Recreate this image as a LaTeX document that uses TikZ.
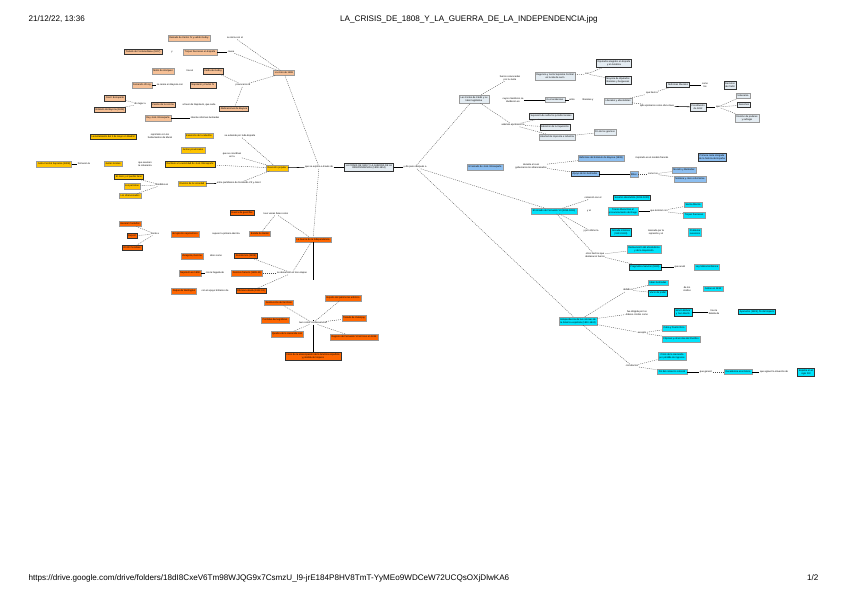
\documentclass[tikz,border=0pt]{standalone}
\usepackage{fontspec}
\setmainfont{Liberation Sans}
\usepackage{xcolor}
\usepackage{tikz}
\usetikzlibrary{calc}
\definecolor{melocoton}{RGB}{246,192,150}
\definecolor{amarillo}{RGB}{255,196,0}
\definecolor{naranja}{RGB}{255,102,0}
\definecolor{grisazul}{RGB}{228,236,242}
\definecolor{azul}{RGB}{140,190,240}
\definecolor{cian}{RGB}{0,228,252}
\newcommand{\mini}{\fontsize{2.4}{2.8}\selectfont}
\newcommand{\cabe}{\fontsize{8.1}{9}\selectfont}

\begin{document}
\begin{tikzpicture}[x=1pt, y=-1pt,
    caja/.style={font=\mini, align=center, inner xsep=1.4pt, inner ysep=1.6pt, draw=black!40, line width=0.2pt},
    marco/.style={draw=black!80, line width=0.45pt},
    pe/.style={caja, fill=melocoton}, am/.style={caja, fill=amarillo},
    na/.style={caja, fill=naranja}, gr/.style={caja, fill=grisazul},
    az/.style={caja, fill=azul}, ci/.style={caja, fill=cian},
    enl/.style={font=\mini, align=center, inner sep=0.5pt},
    rama/.style={black!70, line width=0.35pt, dash pattern=on 1pt off 1pt},
    liga/.style={black, line width=0.55pt}]
    \useasboundingbox (0,0) rectangle (848,599);
    % 1. Cabecera y pie
    \node[anchor=west, font=\cabe] (fecha) at (25,19) {21/12/22, 13:36};
    \node[font=\cabe] (titulo) at (469,19) {LA\_CRISIS\_DE\_1808\_Y\_LA\_GUERRA\_DE\_LA\_INDEPENDENCIA.jpg};
    \node[anchor=west, font=\cabe] (url) at (25,578) {https://drive.google.com/drive/folders/18dI8CxeV6Tm98WJQG9x7CsmzU\_l9-jrE184P8HV8TmT-YyMEo9WDCeW72UCQsOXjDlwKA6};
    \node[anchor=east, font=\cabe] (pagina) at (822,578) {1/2};

    % 2. Nodo central
    \node[gr,marco] (cen) at (369,167) {LA CRISIS DE 1808 Y LA GUERRA DE LA\\INDEPENDENCIA (1808-1814)};
    \node[enl] (lc) at (319,167) {que se explica a través de};
    \node[enl] (rc) at (415,167) {y dio paso después a};
    \draw[liga] (lc) -- (cen);
    \draw[liga] (cen) -- (rc);

    % 3. Rama melocotón
    \node[pe] (pm) at (284,73) {La crisis de 1808};
    \node[pe] (p1) at (189,38) {Reinado de Carlos IV y valido Godoy};
    \node[enl] (lp1) at (235,38) {se inicia con el};
    \node[pe,marco] (p2) at (143,52) {Tratado de Fontainebleau (1807)};
    \node[enl] (lp2) at (172,52) {y};
    \node[pe] (p3) at (200,52) {Tropas francesas en España};
    \node[enl] (lp3) at (231,52) {causa};
    \node[pe] (p4) at (163,71) {Motín de Aranjuez};
    \node[enl] (lp4) at (190,71) {tras el};
    \node[pe,marco] (p5) at (213,71) {Caída de Godoy};
    \node[enl] (lp5) at (243,85) {provocaron la};
    \node[pe] (p6) at (142,85) {Fernando VII rey};
    \node[enl] (lp6) at (170,85) {se reúne en Bayona con};
    \node[pe,marco] (p7) at (203,85) {Napoleón y Carlos IV};
    \node[pe,marco] (p8) at (234,109) {Abdicaciones de Bayona};
    \node[pe,marco] (p9) at (115,98) {José I Bonaparte};
    \node[pe,marco] (p10) at (110,110) {Estatuto de Bayona (1808)};
    \node[enl] (lp9) at (140,104) {dio lugar a};
    \node[pe,marco] (p11) at (163,105) {Cesión de la corona};
    \node[enl] (lp11) at (199,105) {a favor de Napoleón, que cede};
    \node[pe] (p12) at (158,118) {Rey José I Bonaparte};
    \node[enl] (lp12) at (205,118) {intenta reformas ilustradas};
    \draw[rama] (lp1) -- (pm);
    \draw[liga] (p3) -- (lp3);
    \draw[rama] (lp3) -- (pm);
    \draw[rama] (p5) -- (lp5);
    \draw[rama] (lp5) -- (pm);
    \draw[rama] (lp5) -- (p8);
    \draw[liga] (p6) -- (lp6);
    \foreach \n in {p9,p10} \draw[rama] (\n) -- (lp9);
    \draw[liga] (p12) -- (lp12);
    \draw[rama] (pm) -- (lc);

    % 4. Rama amarilla
    \node[am] (ym) at (277,168) {Reacción popular};
    \node[am,marco] (y1) at (113,137) {Levantamiento del 2 de mayo en Madrid};
    \node[enl] (ly1) at (160,136) {reprimido con los\\fusilamientos de Murat};
    \node[am] (y2) at (199,136) {Extensión de la rebelión};
    \node[enl] (ly2) at (240,136) {se extiende por toda España};
    \node[am] (y3) at (193,150) {Juntas provinciales};
    \node[enl] (ly3) at (232,155) {que se coordinan\\en la};
    \node[am] (y4) at (54,164) {Junta Central Suprema (1808)};
    \node[enl] (ly4) at (84,164) {formaron la};
    \node[am] (y5) at (113,164) {Juntas locales};
    \node[enl] (ly5) at (145,164) {que asumen\\la soberanía};
    \node[am,marco] (y6) at (190,164) {Rechazo a la autoridad de José I Bonaparte};
    \node[am,marco] (y7) at (129,177) {El clero y el pueblo llano};
    \node[am] (y8) at (132,186) {Los patriotas};
    \node[am] (y9) at (130,196) {Los afrancesados};
    \node[enl] (ly7) at (162,185) {divididos en};
    \node[am] (y10) at (192,184) {División de la sociedad};
    \node[enl] (ly10) at (239,183) {entre partidarios de Fernando VII y José I};
    \draw[rama] (ly2) -- (ym);
    \draw[rama] (ly3) -- (ym);
    \draw[liga] (y4) -- (ly4);
    \draw[rama] (y6) -- (ym);
    \foreach \n in {y7,y8,y9} \draw[rama] (\n) -- (ly7);
    \draw[liga] (y10) -- (ly10);
    \draw[rama] (ly10) -- (ym);
    \draw[liga] (ym) -- (lc);

    % 5. Rama naranja
    \node[na] (om) at (313,239.5) {La Guerra de la Independencia};
    \node[na,marco] (oa) at (242,213) {Guerra de guerrillas};
    \node[enl] (loa) at (276,214) {tuvo varias fases como};
    \node[na] (ob) at (260,234) {Batalla de Bailén};
    \node[enl] (lob) at (226,234) {supuso la primera derrota};
    \node[na] (oc) at (185,234) {del ejército napoleónico};
    \node[enl] (loc) at (155,234) {frente a};
    \node[na] (od1) at (130,224) {General Castaños};
    \node[na,marco] (od2) at (132,236) {Dupont};
    \node[na,marco] (od3) at (132,248) {20.000 hombres};
    \node[enl] (lle) at (292,273) {se desarrolló en tres etapas};
    \node[na,marco] (oe1) at (246,256) {Resistencia (1808)};
    \node[enl] (loe1) at (216,256) {sitios como};
    \node[na] (of1) at (192,256) {Zaragoza, Gerona};
    \node[na] (oe2) at (247,273) {Dominio francés (1809-11)};
    \node[enl] (loe2) at (215,273) {con la llegada de};
    \node[na] (of2) at (190,273) {Napoleón en 1808};
    \node[na,marco] (oe3) at (251,291) {Ofensiva aliada (1812-13)};
    \node[enl] (loe3) at (215,291) {con el apoyo británico de};
    \node[na] (of3) at (184,291) {Duque de Wellington};
    \node[enl] (llc) at (313,323) {tuvo como consecuencias};
    \node[na] (og1) at (279,303) {Destrucción del territorio};
    \node[na] (og2) at (275,320) {Pérdidas demográficas};
    \node[na] (og3) at (287,334) {Quiebra de la Hacienda real};
    \node[na] (oh1) at (343,298) {Expolio del patrimonio artístico};
    \node[na] (oh2) at (354,318) {Tratado de Valençay};
    \node[na] (oh3) at (354,337) {Regreso de Fernando VII al trono en 1814};
    \node[na,marco] (oi) at (313,356) {Inicio de la emancipación de la América española\\y pérdida del imperio};
    \draw[rama] (lc) -- (om);
    \draw[rama] (loa) -- (om);
    \draw[rama] (loa) -- (ob);
    \foreach \n in {od1,od2,od3} \draw[rama] (\n) -- (loc);
    \draw[rama] (om) -- (lle);
    \foreach \n in {oe1,oe2,oe3} \draw[rama] (lle) -- (\n);
    \draw[liga] (of2) -- (loe2);
    \draw[liga, dash pattern=on 38pt off 40pt] (om) -- (llc);
    \foreach \n in {og1,og3,oh1,oh2,oh3} \draw[rama] (llc) -- (\n);
    \draw[liga] (llc) -- (oi);

    % 6. Rama gris azulada (arriba a la derecha)
    \node[gr] (lm) at (474,99) {Las Cortes de Cádiz y su\\labor legislativa};
    \node[enl] (ll1) at (510,78) {fueron convocadas\\por la Junta};
    \node[gr] (l2) at (555,76) {Regencia y Junta Suprema Central\\en la isla de León};
    \node[enl] (ll2) at (587,74) {con};
    \node[gr,marco] (l3) at (614,63) {Diputados elegidos en España\\y en América};
    \node[gr,marco] (l4) at (618,80) {Mayoría de diputados\\liberales y burgueses};
    \node[enl] (ll3) at (513,100) {cuyos miembros se\\dividieron en};
    \node[gr] (l5) at (555,100) {Dos tendencias};
    \node[enl] (ll4) at (572,100) {entre};
    \node[enl] (ll5) at (588,100) {liberales y};
    \node[gr] (l6) at (618,101) {Liberales y absolutistas};
    \node[enl] (ll6) at (652,93) {que llevó a};
    \node[gr,marco] (k1) at (678,85) {Reformas liberales};
    \node[enl] (lk1) at (705,85) {como\\los};
    \node[gr,marco] (k2) at (730,85) {Decretos\\de Cádiz};
    \node[enl] (ll7) at (657,106) {que aprobaron como obra clave};
    \node[gr,marco] (k3) at (698,107) {Constitución\\de 1812};
    \node[enl] (lk3) at (718,107) {que};
    \node[gr] (k4) at (743,96) {Soberanía};
    \node[gr,marco] (k5) at (744,105) {Derechos};
    \node[gr] (k6) at (747,118) {División de poderes\\y sufragio};
    \node[enl] (ll8) at (513,125) {además aprobaron la};
    \node[gr,marco] (l8) at (551,116) {Supresión de señoríos jurisdiccionales};
    \node[gr,marco] (l9) at (555,127) {Abolición de la Inquisición};
    \node[gr] (l10) at (557,137) {Libertad de imprenta e industria};
    \node[gr] (l11) at (605,132) {Fin de los gremios};
    \draw[rama] (rc) -- (lm);
    \draw[rama] (lm) -- (ll1);
    \draw[rama] (l2) -- (ll2);
    \foreach \n in {l3,l4} \draw[rama] (ll2) -- (\n);
    \draw[liga] (ll3) -- (l5);
    \draw[liga] (l5) -- (ll4);
    \draw[rama] (l6) -- (ll6) -- (k1);
    \draw[liga] (k1) -- (lk1);
    \draw[rama] (l6) -- (ll7);
    \draw[liga] (ll7) -- (k3);
    \draw[liga] (k3) -- (lk3);
    \foreach \n in {k4,k5,k6} \draw[rama] (lk3) -- (\n);
    \draw[rama] (lm) -- (ll8);
    \foreach \n in {l8,l9,l10} \draw[rama] (ll8) -- (\n);
    \draw[rama] (l10) -- (l11);

    % 7. Rama azul
    \node[az] (bm) at (485,167) {El reinado de José I Bonaparte};
    \node[enl] (lb) at (531,166) {durante el cual\\gobernaron los afrancesados};
    \node[az] (b1) at (601,158) {Reformas del Estatuto de Bayona (1808)};
    \node[enl] (lb1) at (652,158) {inspirado en el modelo francés};
    \node[az,marco] (b3) at (712,157) {Primera carta otorgada\\de la historia de España};
    \node[az,marco] (b2) at (585,174) {Apoyo de los ilustrados};
    \node[az] (b4) at (634,174) {Élites};
    \node[enl] (lb4) at (653,174) {como los};
    \node[az] (b5) at (684,170) {Moratín y Meléndez};
    \node[az] (b6) at (690,179) {Nobleza y clero reformistas};
    \foreach \n in {b1,b2} \draw[rama] (lb) -- (\n);
    \draw[liga] (b2) -- (b4);
    \draw[rama] (b4) -- (lb4);
    \foreach \n in {b5,b6} \draw[rama] (lb4) -- (\n);

    % 8. Rama cian
    \node[ci] (cm) at (554,211) {El reinado de Fernando VII (1814-1833)};
    \node[enl] (lc1) at (593,198) {comenzó con el};
    \node[ci,marco] (c1) at (632,198) {Sexenio absolutista (1814-1820)};
    \node[enl] (lc2) at (589,211) {y el};
    \node[ci] (c2) at (623,211) {Trienio liberal tras el\\pronunciamiento de Riego};
    \node[enl] (lc3) at (659,211) {que terminó con};
    \node[ci] (c3) at (693,205) {Santa Alianza};
    \node[ci] (c4) at (694,215) {Tropas francesas};
    \node[enl] (lc4) at (591,231) {y por último la};
    \node[ci,marco] (c5) at (621,232) {Década ominosa\\(1823-1833)};
    \node[enl] (lc5) at (656,232) {marcada por la\\represión y el};
    \node[ci] (c6) at (695,232) {Problema\\sucesorio};
    \node[enl] (lc6) at (595,255) {otros hechos que\\destacaron fueron};
    \node[ci] (c7) at (644,249) {Restauración del absolutismo\\y de la Inquisición};
    \node[ci,marco] (c8) at (645,267) {Pragmática Sanción (1830)};
    \node[enl] (lc8) at (680,267) {que anuló};
    \node[ci] (c9) at (707,267) {Ley Sálica borbónica};
    \draw[rama] (rc) -- (cm);
    \draw[rama] (cm) -- (lc1);
    \draw[liga] (c2) -- (lc3);
    \foreach \n in {c3,c4} \draw[rama] (lc3) -- (\n);
    \draw[rama] (cm) -- (lc4);
    \draw[rama] (cm) -- (lc6);
    \foreach \n in {c7,c8} \draw[rama] (lc6) -- (\n);
    \draw[liga] (c8) -- (lc8);

    % 9. Rama cian inferior
    \node[ci] (dm) at (578,321) {Independencia de las colonias de\\la América española (1810-1824)};
    \node[enl] (ld1) at (628,290) {debido a};
    \node[ci] (d1) at (658,283) {Ideas ilustradas};
    \node[ci,marco] (d2) at (658,293) {Vacío de poder};
    \node[enl] (ld2) at (687,289) {de los\\criollos};
    \node[ci] (d3) at (713,289) {Juntas en 1810};
    \node[enl] (ld3) at (637,313) {fue dirigida por los\\líderes criollos como};
    \node[ci,marco] (d4) at (683,312) {Simón Bolívar\\y San Martín};
    \node[enl] (ld4) at (714,312) {tras la\\batalla de};
    \node[ci,marco] (d5) at (757,312) {Ayacucho (1824), fin del imperio};
    \node[enl] (ld5) at (642,333) {excepto};
    \node[ci] (d6) at (674,328) {Cuba y Puerto Rico};
    \node[ci] (d7) at (681,339) {Filipinas y otras islas del Pacífico};
    \node[enl] (ld6) at (632,366) {con efectos};
    \node[ci] (d8) at (672,356) {Crisis de la Hacienda\\por pérdida de ingresos};
    \node[ci] (d9) at (672,372) {Fin del comercio colonial};
    \node[enl] (ld9) at (706,372) {que generó};
    \node[ci] (d10) at (738,372) {Decadencia económica};
    \node[enl] (ld10) at (774,372) {que agravó la situación de};
    \node[ci,marco] (d11) at (806,372) {España en el\\siglo XIX};
    \draw[rama] (rc) -- (dm);
    \draw[rama] (dm) -- (ld1);
    \foreach \n in {d1,d2} \draw[rama] (ld1) -- (\n);
    \draw[rama] (dm) -- (ld3);
    \draw[liga] (d4) -- (ld4);
    \draw[rama] (dm) -- (ld5);
    \foreach \n in {d6,d7} \draw[rama] (ld5) -- (\n);
    \draw[rama] (dm) -- (ld6);
    \foreach \n in {d8,d9} \draw[rama] (ld6) -- (\n);
    \draw[liga] (d9) -- (ld9);
    \draw[rama] (ld9) -- (d10);
    \draw[liga] (d10) -- (ld10);
\end{tikzpicture}
\end{document}
